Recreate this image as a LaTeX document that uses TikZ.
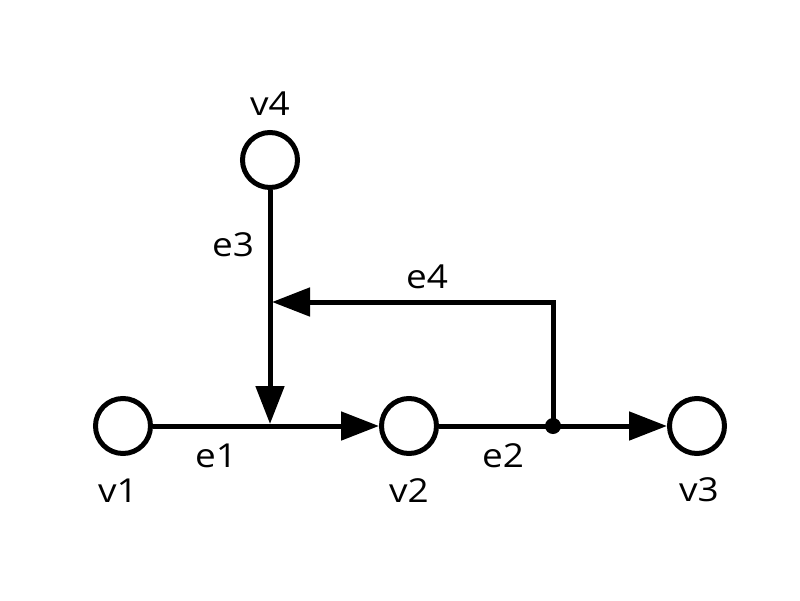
\documentclass[tikz,border=0pt]{standalone}
\usepackage{fontspec}
\setmainfont{Open Sans}
\usepackage{graphicx}
\usetikzlibrary{arrows.meta}
\newcommand{\lb}[1]{\scalebox{1.12}[1]{#1}}
\begin{document}
\begin{tikzpicture}[x=1pt,y=-1pt,
  vert/.style={circle,draw,line width=5pt,minimum size=55pt,inner sep=0pt},
  edge/.style={line width=5pt},
  arr/.style={edge,-{Triangle[length=38pt,width=28pt]}},
  lbl/.style={font=\fontsize{33}{33}\selectfont,inner sep=0pt}]
\useasboundingbox (0,0) rectangle (800,600);
\node[vert] (v1) at (123,426) {};
\node[vert] (v2) at (409,426) {};
\node[vert] (v3) at (697,426) {};
\node[vert] (v4) at (270,160) {};
\coordinate (j1) at (270,424);
\coordinate (j4) at (272,302);
\fill (553,426) circle (8pt);
\coordinate (dot) at (553,426);
\draw[arr] (v1) -- (v2);
\draw[arr] (v2) -- (v3);
\draw[arr] (v4) -- (j1);
\draw[arr] (dot) |- (j4);
\node[lbl] (lv4) at (270,104) {\lb{v4}};
\node[lbl] (lv1) at (118,491) {\lb{v1}};
\node[lbl] (lv2) at (409,491) {\lb{v2}};
\node[lbl] (lv3) at (699,490) {\lb{v3}};
\node[lbl] (le1) at (216,456) {\lb{e1}};
\node[lbl] (le2) at (503,456) {\lb{e2}};
\node[lbl] (le3) at (233,245) {\lb{e3}};
\node[lbl] (le4) at (427,277) {\lb{e4}};
\end{tikzpicture}
\end{document}
